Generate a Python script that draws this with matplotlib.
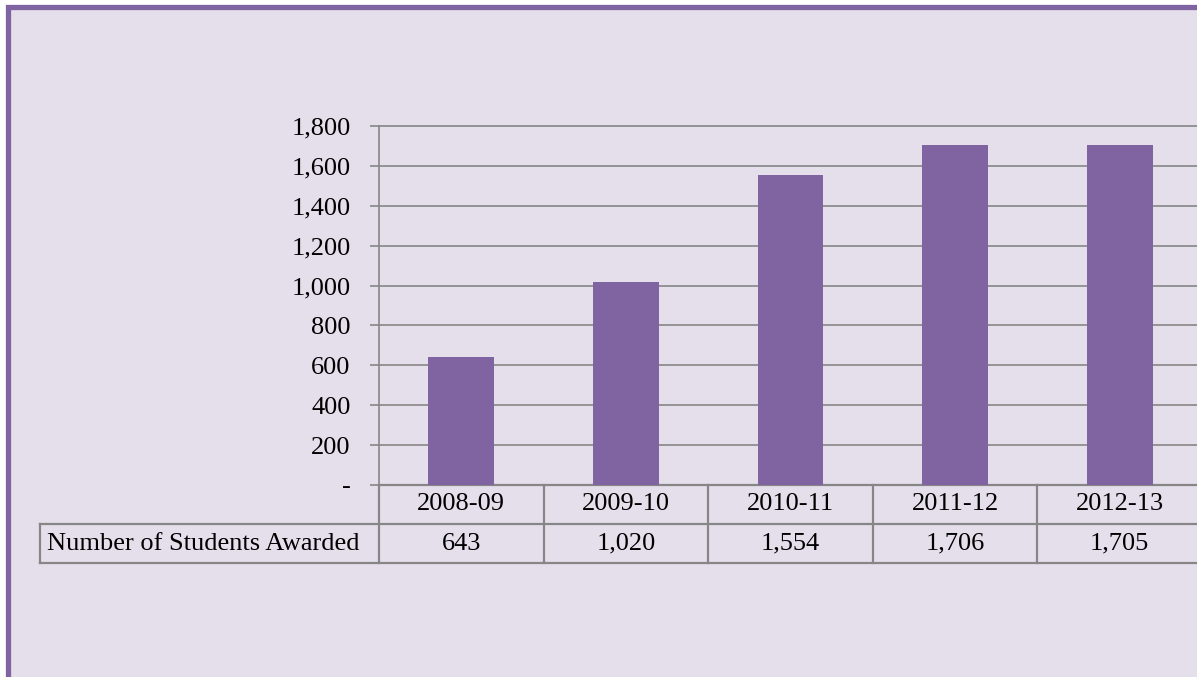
import matplotlib.pyplot as plt
from matplotlib.patches import Rectangle

plt.rcParams['font.family'] = ['Liberation Serif', 'DejaVu Serif']

# data
years = ['2008-09', '2009-10', '2010-11', '2011-12', '2012-13']
awarded = [643, 1020, 1554, 1706, 1705]
row_label = 'Number of Students Awarded'
yticks = [0, 200, 400, 600, 800, 1000, 1200, 1400, 1600, 1800]

W, H = 1197, 677
bar_col = '#8064A2'
bg = '#E5DFEC'
line_col = '#868686'
fs = 19

fig = plt.figure(figsize=(W / 100, H / 100), dpi=100)
fig.patch.set_facecolor('white')

# chart area with purple frame (right/bottom edges cut off)
fig.patches.append(Rectangle((7.5 / W, -0.05), 1.1, 1 - 6.5 / H + 0.05,
                             transform=fig.transFigure, facecolor=bg,
                             edgecolor=bar_col, linewidth=3.8, zorder=-5))

ax = fig.add_axes([379 / W, 1 - 485 / H, 823 / W, 359 / H])
ax.set_facecolor('none')

x = list(range(len(years)))
ax.bar(x, awarded, width=0.4, color=bar_col, zorder=3)
ax.set_xlim(-0.5, len(years) - 0.5)
ax.set_ylim(0, 1800)

ax.set_yticks(yticks)
ax.set_yticklabels(['-' if v == 0 else f'{v:,}' for v in yticks], fontsize=fs)
ax.yaxis.grid(True, color=line_col, linewidth=1.2, zorder=0)
for g in ax.get_ygridlines():
    g.set_clip_on(False)
ax.tick_params(axis='y', length=6.5, width=1.2, color=line_col, pad=14)
ax.tick_params(axis='x', bottom=False, labelbottom=False)
for s in ['top', 'right', 'bottom']:
    ax.spines[s].set_visible(False)
ax.spines['left'].set_color(line_col)
ax.spines['left'].set_linewidth(1.2)

# data table under the plot
rh = 39 / 359  # row height in axes fraction
tr = ax.get_xaxis_transform()
lw = 1.6
left_x = -(379 - 40) / 823 * len(years) - 0.5  # header cell left edge in data units
ax.plot([-0.5, len(years) - 0.5], [0, 0], transform=tr, color=line_col, lw=lw, clip_on=False)
ax.plot([left_x, len(years) - 0.5], [-rh, -rh], transform=tr, color=line_col, lw=lw, clip_on=False)
ax.plot([left_x, len(years) - 0.5], [-2 * rh, -2 * rh], transform=tr, color=line_col, lw=lw, clip_on=False)
ax.plot([left_x, left_x], [-rh, -2 * rh], transform=tr, color=line_col, lw=lw, clip_on=False)
for i in range(len(years) + 1):
    ax.plot([i - 0.5, i - 0.5], [0, -2 * rh], transform=tr, color=line_col, lw=lw, clip_on=False)

for i, (yr, v) in enumerate(zip(years, awarded)):
    ax.text(i, -rh / 2, yr, transform=tr, ha='center', va='center', fontsize=fs, clip_on=False)
    ax.text(i, -1.5 * rh, f'{v:,}', transform=tr, ha='center', va='center', fontsize=fs, clip_on=False)
ax.text(left_x + 0.04, -1.5 * rh, row_label, transform=tr, ha='left', va='center',
        fontsize=fs, clip_on=False)

fig.savefig('out.png', dpi=100, facecolor=fig.get_facecolor())
